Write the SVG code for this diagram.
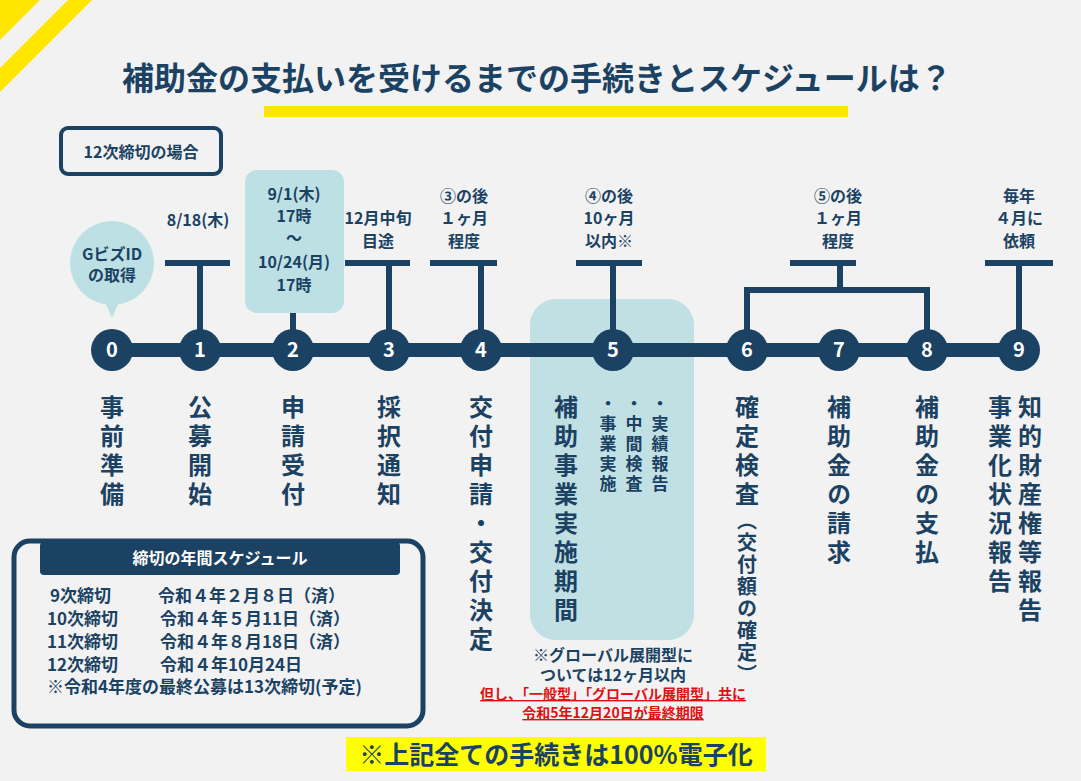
<svg xmlns="http://www.w3.org/2000/svg" width="1081" height="781" viewBox="0 0 1081 781">
<style>
text{font-family:"Noto Sans CJK JP","Noto Sans",sans-serif;font-weight:bold;fill:#1b4263}
.lbl{font-size:16px;text-anchor:middle}
.num{font-size:20px;fill:#fff;text-anchor:middle}
.v{font-size:24px;writing-mode:vertical-rl;letter-spacing:5px}
.vs{font-size:17px;writing-mode:vertical-rl;letter-spacing:3px}
.ln{stroke:#1b4263;stroke-width:6;fill:none}
.sc{font-size:17px}
</style>
<rect width="1081" height="781" fill="#f2f2f2"/>
<polygon points="0,0 40,0 0,40" fill="#ffe600"/>
<polygon points="0,68 68,0 92,0 0,92" fill="#ffe600"/>
<text x="537" y="90" font-size="32" text-anchor="middle">補助金の支払いを受けるまでの手続きとスケジュールは？</text>
<rect x="264" y="106" width="584" height="11" fill="#ffe600"/>
<g id="case"><rect x="61" y="128" width="160" height="46" rx="7" fill="none" stroke="#1b4263" stroke-width="4"/><text x="141" y="158" font-size="16" text-anchor="middle">12次締切の場合</text></g>
<rect x="530" y="299" width="164" height="341" rx="26" fill="#c0e0e4"/>
<g id="connectors">
<line x1="112" y1="350" x2="1019" y2="350" stroke="#1b4263" stroke-width="14"/>
<path class="ln" d="M165,263H230M200,263V335M293,312V335M345,263H410M389,263V335M430,263H497M481,263V335M576,263H642M613,263V335M790,263H856M840,263V290M747,335V290H927V335M985,263H1053M1019,263V335"/>
</g>
<g id="n0"><circle cx="112" cy="263" r="42" fill="#bde0e4"/><polygon points="104,300 120,300 112,318" fill="#bde0e4"/><text class="lbl" x="112" y="260">GビズID</text><text class="lbl" x="112" y="281">の取得</text><circle cx="112" cy="350" r="21" fill="#1b4263"/><text class="num" x="112" y="357">0</text><text class="v" x="112" y="395">事前準備</text></g>
<g id="n1"><text class="lbl" x="198" y="226">8/18(木)</text><circle cx="200" cy="350" r="21" fill="#1b4263"/><text class="num" x="200" y="357">1</text><text class="v" x="200" y="395">公募開始</text></g>
<g id="n2"><rect x="245" y="170" width="99" height="143" rx="12" fill="#bde0e4"/><text class="lbl" x="294" y="200">9/1(木)</text><text class="lbl" x="294" y="222">17時</text><text class="lbl" x="294" y="244" font-size="12">〜</text><text class="lbl" x="294" y="268">10/24(月)</text><text class="lbl" x="294" y="291">17時</text><circle cx="293" cy="350" r="21" fill="#1b4263"/><text class="num" x="293" y="357">2</text><text class="v" x="293" y="395">申請受付</text></g>
<g id="n3"><text class="lbl" x="378" y="224">12月中旬</text><text class="lbl" x="378" y="247">目途</text><circle cx="389" cy="350" r="21" fill="#1b4263"/><text class="num" x="389" y="357">3</text><text class="v" x="389" y="395">採択通知</text></g>
<g id="n4"><text class="lbl" x="464" y="202">③の後</text><text class="lbl" x="464" y="224">１ヶ月</text><text class="lbl" x="464" y="247">程度</text><circle cx="481" cy="350" r="21" fill="#1b4263"/><text class="num" x="481" y="357">4</text><text class="v" x="481" y="395">交付申請・交付決定</text></g>
<g id="n5"><text class="lbl" x="609" y="202">④の後</text><text class="lbl" x="609" y="224">10ヶ月</text><text class="lbl" x="609" y="247">以内※</text><circle cx="613" cy="350" r="21" fill="#1b4263"/><text class="num" x="613" y="357">5</text><text class="v" x="566" y="395">補助事業実施期間</text><text class="vs" x="660" y="395">・実績報告</text><text class="vs" x="634" y="395">・中間検査</text><text class="vs" x="608" y="395">・事業実施</text><text class="lbl" x="613" y="661" font-size="13">※グローバル展開型に</text><text class="lbl" x="613" y="681" font-size="13">ついては12ヶ月以内</text><text x="613" y="699" font-size="14" text-anchor="middle" style="fill:#e01010" text-decoration="underline">但し、「一般型」「グローバル展開型」共に</text><text x="613" y="718" font-size="14" text-anchor="middle" style="fill:#e01010" text-decoration="underline">令和5年12月20日が最終期限</text></g>
<g id="n6"><circle cx="747" cy="350" r="21" fill="#1b4263"/><text class="num" x="747" y="357">6</text><text class="v" x="747" y="395">確定検査</text><text x="747" y="510" font-size="20" style="writing-mode:vertical-rl;letter-spacing:2px">（交付額の確定）</text></g>
<g id="n7"><text class="lbl" x="838" y="202">⑤の後</text><text class="lbl" x="838" y="224">１ヶ月</text><text class="lbl" x="838" y="247">程度</text><circle cx="839" cy="350" r="21" fill="#1b4263"/><text class="num" x="839" y="357">7</text><text class="v" x="839" y="395">補助金の請求</text></g>
<g id="n8"><circle cx="927" cy="350" r="21" fill="#1b4263"/><text class="num" x="927" y="357">8</text><text class="v" x="927" y="395">補助金の支払</text></g>
<g id="n9"><text class="lbl" x="1019" y="202">毎年</text><text class="lbl" x="1019" y="224">４月に</text><text class="lbl" x="1019" y="247">依頼</text><circle cx="1019" cy="350" r="21" fill="#1b4263"/><text class="num" x="1019" y="357">9</text><text class="v" x="1030" y="395">知的財産権等報告</text><text class="v" x="1000" y="395">事業化状況報告</text></g>
<g id="schedule"><rect x="14" y="541" width="409" height="185" rx="16" fill="none" stroke="#1b4263" stroke-width="5"/><rect x="40" y="542" width="360" height="33" rx="4" fill="#1b4263"/><text x="220" y="564" font-size="16" text-anchor="middle" style="fill:#fff">締切の年間スケジュール</text>
<text class="sc" x="50" y="602"> 9次締切</text><text class="sc" x="158" y="602">令和４年２月８日（済）</text>
<text class="sc" x="47" y="625">10次締切</text><text class="sc" x="160" y="625">令和４年５月11日（済）</text>
<text class="sc" x="47" y="648">11次締切</text><text class="sc" x="160" y="648">令和４年８月18日（済）</text>
<text class="sc" x="47" y="671">12次締切</text><text class="sc" x="160" y="671">令和４年10月24日</text>
<text class="sc" x="47" y="693">※令和4年度の最終公募は13次締切(予定)</text></g>
<rect x="346" y="737" width="420" height="34" fill="#ffff00"/>
<text x="556" y="764" font-size="25" text-anchor="middle">※上記全ての手続きは100%電子化</text>
</svg>
